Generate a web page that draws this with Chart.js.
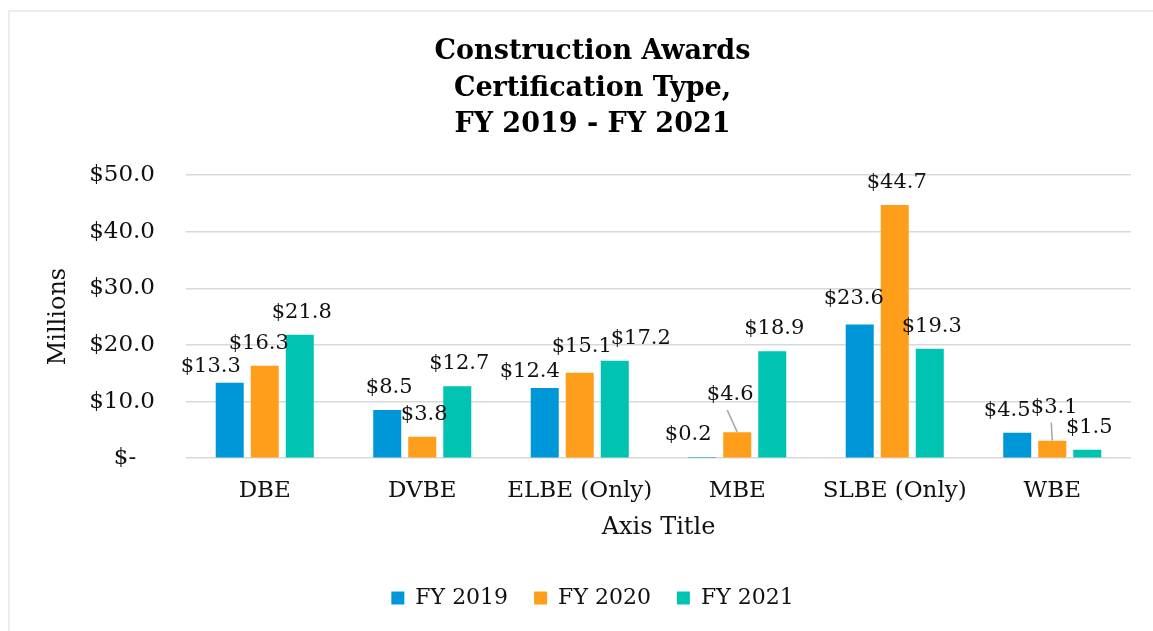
<!DOCTYPE html>
<html>
<head>
<meta charset="utf-8">
<script src="https://cdn.jsdelivr.net/npm/chart.js@4/dist/chart.umd.min.js"></script>
<style>
  html, body { margin: 0; padding: 0; background: #ffffff; }
  #wrap { position: relative; width: 1153px; height: 631px; }
  canvas { display: block; }
</style>
</head>
<body>
<div id="wrap"><canvas id="c" width="1153" height="631"></canvas></div>
<script>
// ---- data ----
const categories = ['DBE', 'DVBE', 'ELBE (Only)', 'MBE', 'SLBE (Only)', 'WBE'];
const seriesNames = ['FY 2019', 'FY 2020', 'FY 2021'];
const fy2019 = [13.3, 8.5, 12.4, 0.2, 23.6, 4.5];
const fy2020 = [16.3, 3.8, 15.1, 4.6, 44.7, 3.1];
const fy2021 = [21.8, 12.7, 17.2, 18.9, 19.3, 1.5];
const yTickValues = [0, 10, 20, 30, 40, 50];

// ---- styling ----
const FONT = "'DejaVu Serif', 'Liberation Serif', serif";
const TEXT = '#111111';
const colors = ['#0097D8', '#FF9E1B', '#00C4B1'];
// label nudges (dx, dy, leader) keyed "dataset-index"
const labelNudge = {
  '0-0': [-21, 6], '1-0': [-8, 0],
  '0-2': [-17, 6], '1-2': [0, -4], '2-2': [24, 0],
  '0-3': [-16, 0], '1-3': [-9, -15, true],
  '0-4': [-8, -4],
  '0-5': [-12, 0], '1-5': [0, -11, true]
};

const framePlugin = {
  id: 'frame',
  beforeDraw(chart) {
    const ctx = chart.ctx;
    ctx.save();
    ctx.fillStyle = '#ffffff';
    ctx.fillRect(0, 0, chart.width, chart.height);
    ctx.strokeStyle = '#EEECE4';
    ctx.lineWidth = 2;
    ctx.beginPath();
    ctx.moveTo(9, chart.height);
    ctx.lineTo(9, 11);
    ctx.lineTo(chart.width, 11);
    ctx.stroke();
    ctx.restore();
  }
};

const labelPlugin = {
  id: 'barLabels',
  afterDatasetsDraw(chart) {
    const ctx = chart.ctx;
    ctx.save();
    ctx.font = "21px " + FONT;
    ctx.fillStyle = TEXT;
    ctx.textAlign = 'center';
    ctx.textBaseline = 'alphabetic';
    chart.data.datasets.forEach((ds, di) => {
      const meta = chart.getDatasetMeta(di);
      meta.data.forEach((el, i) => {
        const v = ds.data[i];
        const n = labelNudge[di + '-' + i] || [0, 0];
        const lx = el.x + 2 + n[0];
        const ly = el.y - 25 + n[1];
        if (n[2]) {
          ctx.strokeStyle = '#A6A6A6';
          ctx.lineWidth = 1.5;
          ctx.beginPath();
          ctx.moveTo(lx - 3, ly + 18);
          ctx.lineTo(el.x, el.y);
          ctx.stroke();
        }
        ctx.fillText('$' + v.toFixed(1), lx, ly + 8);
      });
    });
    ctx.restore();
  }
};

const seriesData = [fy2019, fy2020, fy2021];

new Chart(document.getElementById('c'), {
  type: 'bar',
  data: {
    labels: categories,
    datasets: seriesNames.map((name, k) => ({
      label: name,
      data: seriesData[k],
      backgroundColor: colors[k],
      borderWidth: 0,
      categoryPercentage: 0.667,
      barPercentage: 0.8
    }))
  },
  options: {
    responsive: false,
    animation: false,
    devicePixelRatio: 1,
    layout: { padding: { left: 54, right: 22, top: 0, bottom: 12 } },
    plugins: {
      title: {
        display: true,
        text: ['Construction Awards', 'Certification Type,', 'FY 2019 - FY 2021'],
        font: { family: FONT, size: 27, weight: 'bold', lineHeight: 1.37 },
        color: '#000000',
        padding: { top: 33, bottom: 31 }
      },
      legend: {
        position: 'bottom',
        labels: {
          boxWidth: 13, boxHeight: 13, padding: 26,
          font: { family: FONT, size: 22 }, color: TEXT
        }
      },
      tooltip: { enabled: false }
    },
    scales: {
      x: {
        grid: { display: false, drawTicks: false },
        border: { display: false },
        ticks: { font: { family: FONT, size: 23 }, color: TEXT, padding: 19, maxRotation: 0 },
        title: { display: true, text: 'Axis Title', font: { family: FONT, size: 24 }, color: TEXT, padding: { top: 0, bottom: 18.4 } },
        afterFit(scale) { scale.height = 102.8; }
      },
      y: {
        min: 0, max: 50,
        afterBuildTicks(axis) { axis.ticks = yTickValues.map(v => ({ value: v })); },
        grid: { color: '#D9D9D9', lineWidth: 1.5, drawTicks: false },
        border: { display: false },
        ticks: {
          font: { family: FONT, size: 23 }, color: TEXT, padding: 31,
          callback: (v) => v === 0 ? '$-\u2002 ' : '$' + Number(v).toFixed(1)
        },
        title: { display: true, text: 'Millions', font: { family: FONT, size: 24 }, color: TEXT, padding: { top: -9.4, bottom: 0 } },
        afterFit(scale) { scale.width = 132; }
      }
    }
  },
  plugins: [framePlugin, labelPlugin]
});
</script>
</body>
</html>
